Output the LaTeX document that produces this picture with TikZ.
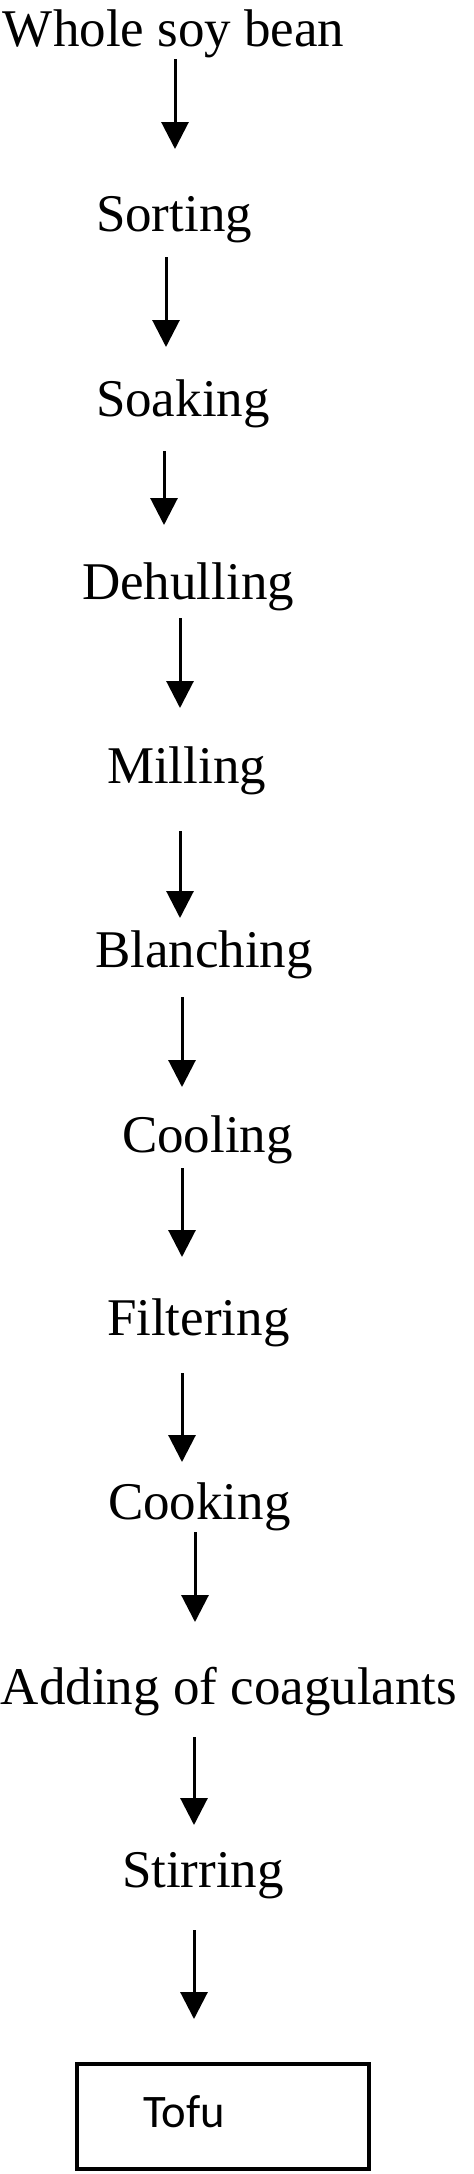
\documentclass[tikz,border=0pt]{standalone}
\usepackage{fontspec}
\setmainfont{Liberation Serif}
\newfontfamily\calib{Carlito}
\usetikzlibrary{arrows.meta}
\tikzset{
  steptext/.style={anchor=base west, inner sep=0pt, outer sep=0pt, font=\fontsize{26.5pt}{30pt}\selectfont},
  flowarrow/.style={line width=1.5pt, -{Triangle[width=13.5pt,length=13.5pt]}},
  tofubox/.style={draw, line width=1.7pt, anchor=north west, inner sep=0pt, outer sep=0pt, minimum width=146pt, minimum height=52.5pt},
  tofutext/.style={anchor=base west, inner sep=0pt, outer sep=0pt, font=\calib\fontsize{23.3pt}{27pt}\selectfont}
}
\begin{document}
\begin{tikzpicture}[x=0.5pt,y=-0.5pt]
\useasboundingbox (0,0) rectangle (473,2174);
\node[steptext] (whole) at (3,46) {Whole soy bean};
\node[steptext] (sorting) at (96,231) {Sorting};
\node[steptext] (soaking) at (96,416) {Soaking};
\node[steptext] (dehulling) at (82,599) {Dehulling};
\node[steptext] (milling) at (107,783) {Milling};
\node[steptext] (blanching) at (95,967) {Blanching};
\node[steptext] (cooling) at (122,1152) {Cooling};
\node[steptext] (filtering) at (107,1335) {Filtering};
\node[steptext] (cooking) at (108,1519) {Cooking};
\node[steptext] (adding) at (1,1704) {Adding of coagulants};
\node[steptext] (stirring) at (122,1887) {Stirring};
\node[tofubox] (box) at (77,2064) {};
\node[tofutext] (tofu) at (143,2127) {Tofu};
% arrow end points
\coordinate (a1s) at (175,59);   \coordinate (a1e) at (175,149);
\coordinate (a2s) at (166,257);  \coordinate (a2e) at (166,347);
\coordinate (a3s) at (164,451);  \coordinate (a3e) at (164,525);
\coordinate (a4s) at (180,618);  \coordinate (a4e) at (180,708);
\coordinate (a5s) at (180,831);  \coordinate (a5e) at (180,918);
\coordinate (a6s) at (182,997);  \coordinate (a6e) at (182,1087);
\coordinate (a7s) at (182,1168); \coordinate (a7e) at (182,1257);
\coordinate (a8s) at (182,1373); \coordinate (a8e) at (182,1462);
\coordinate (a9s) at (195,1532); \coordinate (a9e) at (195,1622);
\coordinate (a10s) at (194,1737); \coordinate (a10e) at (194,1825);
\coordinate (a11s) at (194,1930); \coordinate (a11e) at (194,2019);
\draw[flowarrow] (a1s) -- (a1e);
\draw[flowarrow] (a2s) -- (a2e);
\draw[flowarrow] (a3s) -- (a3e);
\draw[flowarrow] (a4s) -- (a4e);
\draw[flowarrow] (a5s) -- (a5e);
\draw[flowarrow] (a6s) -- (a6e);
\draw[flowarrow] (a7s) -- (a7e);
\draw[flowarrow] (a8s) -- (a8e);
\draw[flowarrow] (a9s) -- (a9e);
\draw[flowarrow] (a10s) -- (a10e);
\draw[flowarrow] (a11s) -- (a11e);
\end{tikzpicture}
\end{document}
